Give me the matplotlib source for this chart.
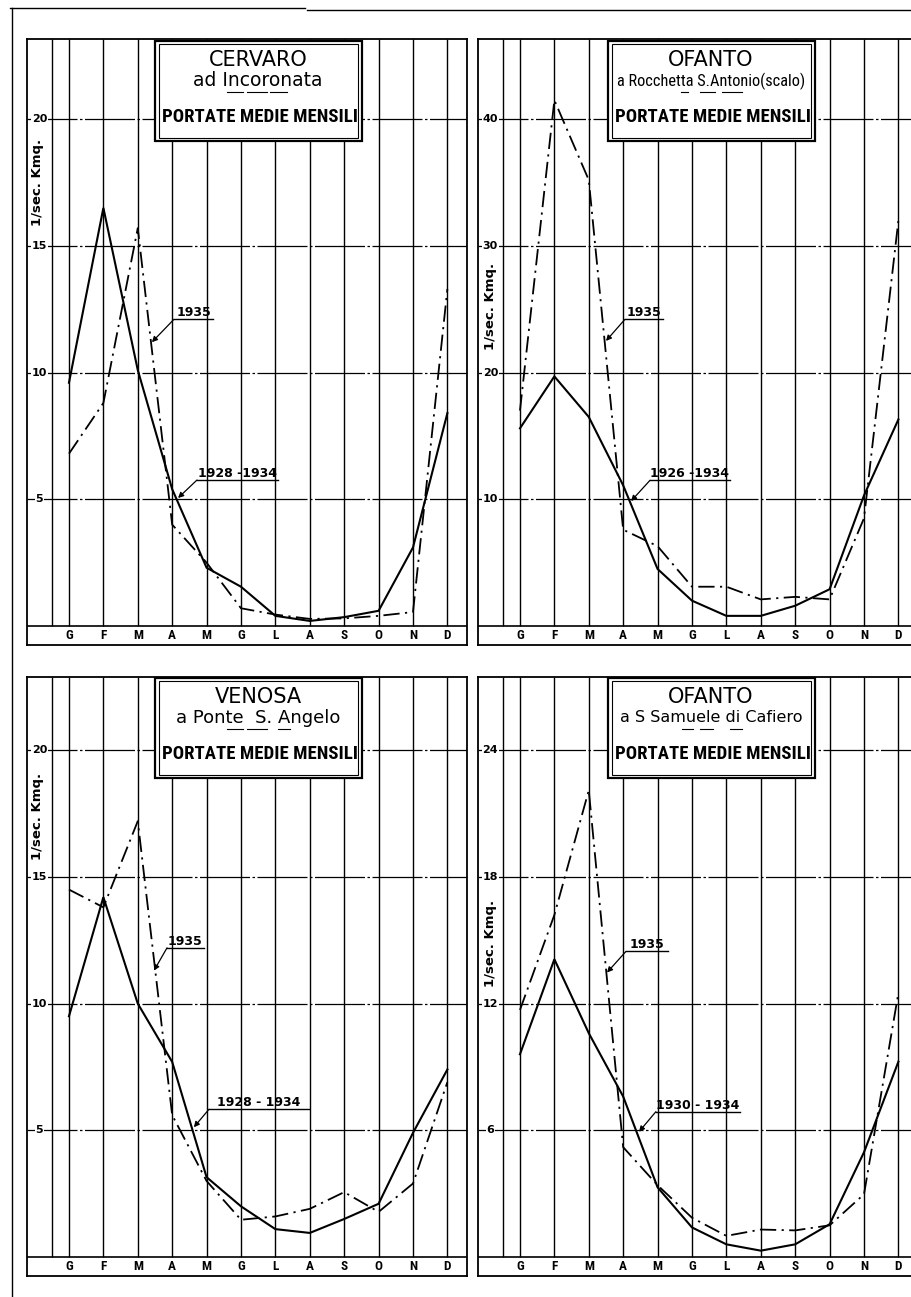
import matplotlib
matplotlib.use("Agg")
import matplotlib.pyplot as plt
import matplotlib.transforms as mtrans
from matplotlib import font_manager
from matplotlib.patches import Rectangle
from matplotlib.lines import Line2D

# -------------------- dati --------------------
months = ["G", "F", "M", "A", "M", "G", "L", "A", "S", "O", "N", "D"]

# CERVARO ad Incoronata
cervaro_media = [9.6, 16.5, 10.1, 5.4, 2.3, 1.55, 0.4, 0.2, 0.35, 0.6, 3.1, 8.4]
cervaro_1935 = [6.8, 8.8, 15.7, 4.0, 2.5, 0.7, 0.45, 0.28, 0.3, 0.4, 0.55, 13.3]

# OFANTO a Rocchetta S.Antonio (scalo)
rocchetta_media = [15.6, 19.7, 16.5, 11.1, 4.5, 2.0, 0.8, 0.8, 1.6, 2.9, 10.3, 16.3]
rocchetta_1935 = [17.0, 41.5, 35.2, 7.6, 6.3, 3.1, 3.1, 2.1, 2.3, 2.1, 8.5, 32.0]

# VENOSA a Ponte S.Angelo
venosa_media = [9.5, 14.2, 10.0, 7.7, 3.15, 2.0, 1.1, 0.95, 1.5, 2.1, 4.9, 7.4]
venosa_1935 = [14.5, 13.8, 17.2, 5.6, 3.0, 1.47, 1.6, 1.9, 2.56, 1.78, 2.9, 6.9]

# OFANTO a S Samuele di Cafiero
samuele_media = [9.6, 14.1, 10.6, 7.6, 3.3, 1.4, 0.6, 0.3, 0.6, 1.55, 4.96, 9.25]
samuele_1935 = [11.7, 16.2, 22.1, 5.2, 3.4, 1.86, 1.0, 1.3, 1.26, 1.5, 2.97, 12.5]

W, H = 912, 1297
fig = plt.figure(figsize=(W / 100, H / 100), dpi=100)
fig.patch.set_facecolor("white")
pix = mtrans.Affine2D().scale(1 / W, -1 / H).translate(0, 1) + fig.transFigure


def pick(names):
    avail = {f.name for f in font_manager.fontManager.ttflist}
    return [n for n in names if n in avail] + ["DejaVu Sans"]


narrow = pick(["Liberation Sans Narrow", "Roboto Condensed", "Noto Sans Condensed",
               "Open Sans Condensed"])

DASHDOT = (0, (9, 3, 1.2, 3))
GRID = (0, (40, 2, 2, 2))


def panel(x0, y0, ytop0, media, anno, step, note):
    """x0: bordo sinistro (px), y0: bordo superiore (px), ytop0: linea dello zero (px)"""
    y1 = ytop0 + 19
    ax = fig.add_axes([x0 / W, 1 - y1 / H, 440 / W, (y1 - y0) / H])
    unit = 126.7 / step
    ymax = (ytop0 - y0) / unit
    ymin = -19 / unit
    ax.set_xlim(-1.22, 11.57)
    ax.set_ylim(ymin, ymax)
    ax.set_xticks([])
    ax.set_yticks([])
    for s in ax.spines.values():
        s.set_linewidth(1.3)

    xs = list(range(12))
    ax.vlines([-0.5] + xs, 0, ymax, color="black", lw=1.0)
    ticks = [step * k for k in range(1, 5)]
    ax.hlines(ticks, -1.22, 11.57, color="black", lw=0.9, linestyle=GRID)
    for t in ticks:
        ax.text(-0.86, t, str(t), ha="center", va="center", fontsize=8,
                fontweight="bold", bbox=dict(fc="white", ec="none", pad=0.6))
    ax.axhline(0, color="black", lw=1.2)
    for i, m in enumerate(months):
        ax.text(i, ymin / 2, m, ha="center", va="center", fontsize=9.5,
                fontweight="bold", family=narrow)

    ax.plot(xs, media, color="black", lw=1.5, solid_joinstyle="miter")
    ax.plot(xs, anno, color="black", lw=1.3, linestyle=DASHDOT)

    # richiami
    for (ul, ur, uy, tx, ty, label) in note:
        ax.plot([ul, ur], [uy, uy], color="black", lw=1.0)
        ax.annotate("", xy=(tx, ty), xytext=(ul, uy),
                    arrowprops=dict(arrowstyle="-|>", color="black", lw=0.9,
                                    mutation_scale=8, shrinkA=0, shrinkB=0))
        ax.text((ul + ur) / 2, uy, label, ha="center", va="bottom",
                fontsize=9, fontweight="bold")
    return ax


def title_box(cx, ytop, name, place, place_font, place_size, dashes):
    bx0, bx1 = cx - 103, cx + 104
    fig.add_artist(Rectangle((bx0, ytop), bx1 - bx0, 100, transform=pix,
                             fc="white", ec="black", lw=1.6, zorder=5))
    fig.add_artist(Rectangle((bx0 + 4, ytop + 3), bx1 - bx0 - 8, 94, transform=pix,
                             fc="none", ec="black", lw=0.8, zorder=5))
    fig.text(cx, ytop + 19, name, transform=pix, ha="center", va="center",
             fontsize=15, zorder=6)
    fig.text(cx, ytop + 40, place, transform=pix, ha="center", va="center",
             fontsize=place_size, zorder=6, family=place_font)
    for a, b in dashes:
        fig.add_artist(Line2D([a, b], [ytop + 51, ytop + 51], transform=pix,
                              color="black", lw=0.8, zorder=6))
    fig.text(cx + 2, ytop + 76, "PORTATE MEDIE MENSILI", transform=pix,
             ha="center", va="center", fontsize=13.5, fontweight="bold",
             fontstretch="condensed", family=narrow, zorder=6)


def ylabel(x, y):
    fig.text(x, y, "1/sec. Kmq.", transform=pix, rotation=90, ha="center",
             va="center", fontsize=9.5, fontweight="bold", zorder=6,
             bbox=dict(fc="white", ec="none", pad=0.5))


panel(27, 39, 626, cervaro_media, cervaro_1935, 5,
      [(3.05, 4.19, 12.1, 2.41, 11.2, "1935"),
       (3.72, 6.08, 5.76, 3.17, 5.05, "1928 -1934")])
panel(478, 39, 626, rocchetta_media, rocchetta_1935, 10,
      [(3.05, 4.16, 24.2, 2.5, 22.5, "1935"),
       (3.78, 6.1, 11.5, 3.23, 9.86, "1926 -1934")])
panel(27, 677, 1257, venosa_media, venosa_1935, 5,
      [(2.85, 3.92, 12.2, 2.47, 11.3, "1935"),
       (4.07, 6.98, 5.83, 3.63, 5.12, "1928 - 1934")])
panel(478, 677, 1257, samuele_media, samuele_1935, 6,
      [(3.08, 4.3, 14.47, 2.53, 13.47, "1935"),
       (3.95, 6.4, 6.88, 3.46, 5.93, "1930 - 1934")])

title_box(258, 41, "CERVARO", "ad Incoronata", "DejaVu Sans", 13.5,
          [(227, 243), (247, 267), (270, 287)])
title_box(711, 41, "OFANTO", "a Rocchetta S.Antonio(scalo)", narrow, 11.8,
          [(681, 688), (700, 715), (722, 742)])
title_box(258, 678, "VENOSA", "a Ponte  S. Angelo", "DejaVu Sans", 13,
          [(227, 243), (247, 267), (278, 290)])
title_box(711, 678, "OFANTO", "a S Samuele di Cafiero", "DejaVu Sans", 11.5,
          [(682, 693), (700, 713), (730, 742)])

ylabel(38, 182)
ylabel(491, 306)
ylabel(38, 816)
ylabel(491, 943)

# cornice della tavola
fig.add_artist(Line2D([12, 12], [8, 1297], transform=pix, color="black", lw=1.0))
fig.add_artist(Line2D([10, 305], [8, 8], transform=pix, color="black", lw=1.0))
fig.add_artist(Line2D([307, 912], [10, 10], transform=pix, color="black", lw=1.0))

fig.savefig("out.png", dpi=100, facecolor="white")
